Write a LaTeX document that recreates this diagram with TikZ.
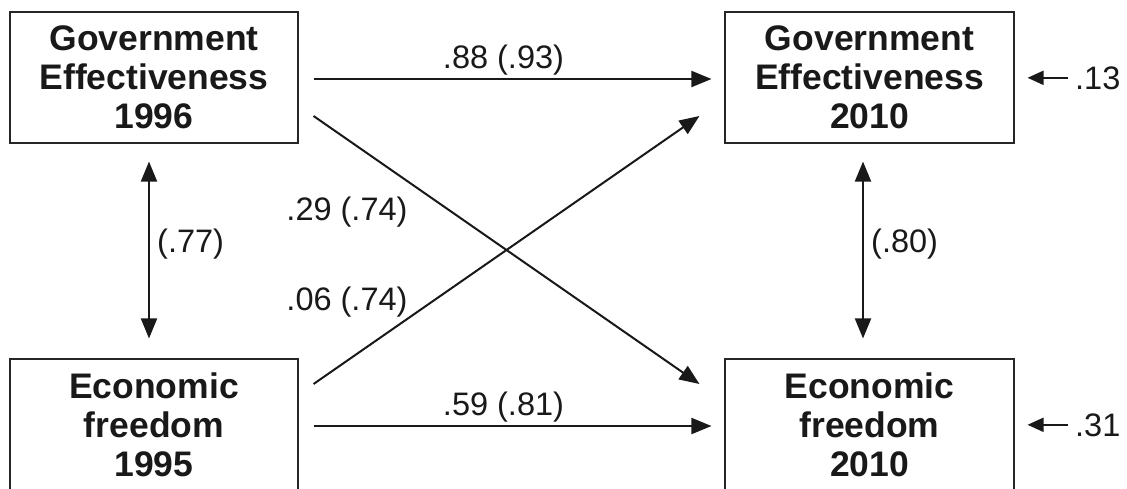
\documentclass[tikz,border=0pt]{standalone}
\usepackage{fontspec}
\setmainfont{Liberation Sans}
\usetikzlibrary{arrows.meta}
\tikzset{
  box/.style={draw=black!85, line width=1.1pt, minimum height=131pt, inner sep=0pt,
    align=center, font=\bfseries\fontsize{35.5}{39}\selectfont, text=black!90},
  lab/.style={inner sep=0pt, font=\fontsize{32.5}{38}\selectfont, text=black!90},
  conn/.style={line width=2pt, draw=black!90, -{Triangle[length=20pt,width=16pt]}},
  dconn/.style={line width=2pt, draw=black!90, {Triangle[length=20pt,width=16pt]}-{Triangle[length=20pt,width=16pt]}},
  resid/.style={line width=2pt, draw=black!90, -{Triangle[length=16pt,width=14pt]}}
}
\begin{document}
\begin{tikzpicture}[x=1pt,y=-1pt]
\useasboundingbox (0,0) rectangle (1127,488);
\clip (0,0) rectangle (1127,488);
\fill[white] (0,0) rectangle (1127,488);
% boxes
\node[box, minimum width=288pt] (ge96) at (154,77.5) {Government\\Effectiveness\\1996};
\node[box, minimum width=289pt] (ge10) at (869.5,77.5) {Government\\Effectiveness\\2010};
\node[box, minimum width=288pt] (ef95) at (154,424.5) {Economic\\freedom\\1995};
\node[box, minimum width=289pt] (ef10) at (869.5,424.5) {Economic\\freedom\\2010};
% paths
\draw[conn] ([xshift=15pt,yshift=-1.5pt]ge96.east) -- ([xshift=-13pt,yshift=-1.5pt]ge10.west);
\draw[conn] ([xshift=15pt,yshift=-1.5pt]ef95.east) -- ([xshift=-13pt,yshift=-1.5pt]ef10.west);
\draw[conn] ([xshift=15pt,yshift=-38.5pt]ge96.east) -- ([xshift=-25pt,yshift=40.5pt]ef10.west);
\draw[conn] ([xshift=15pt,yshift=40.5pt]ef95.east) -- ([xshift=-25pt,yshift=-38.5pt]ge10.west);
\draw[dconn] ([xshift=-5pt,yshift=-18pt]ge96.south) -- ([xshift=-5pt,yshift=20pt]ef95.north);
\draw[dconn] ([xshift=-6.5pt,yshift=-18pt]ge10.south) -- ([xshift=-6.5pt,yshift=20pt]ef10.north);
% labels
\node[lab, anchor=base] (l88) at (503.5,68) {.88 (.93)};
\node[lab, anchor=base] (l59) at (503.5,415) {.59 (.81)};
\node[lab, anchor=base] (l29) at (347,220) {.29 (.74)};
\node[lab, anchor=base] (l06) at (347,310) {.06 (.74)};
\node[lab, anchor=base west] (l77) at (157,252) {(.77)};
\node[lab, anchor=base west] (l80) at (871,252) {(.80)};
% residuals
\node[lab, anchor=base west] (r13) at (1075,89) {.13};
\node[lab, anchor=base west] (r31) at (1075,436) {.31};
\draw[resid] ([xshift=-7pt]r13.west) -- ([xshift=13pt]ge10.east |- r13.west);
\draw[resid] ([xshift=-7pt]r31.west) -- ([xshift=13pt]ef10.east |- r31.west);
\end{tikzpicture}
\end{document}
